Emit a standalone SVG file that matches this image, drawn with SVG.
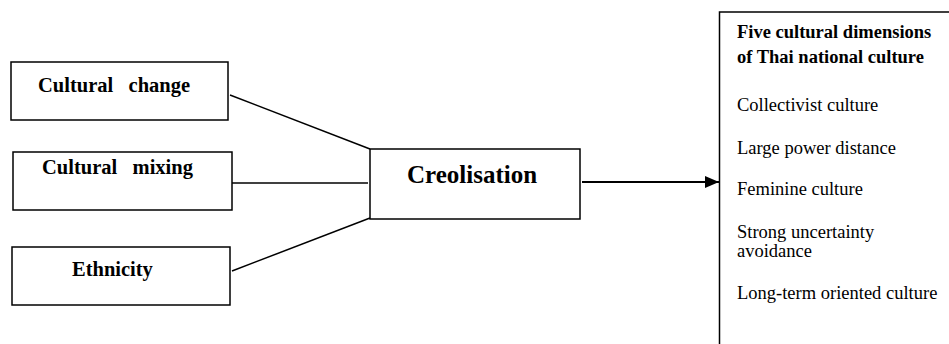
<svg xmlns="http://www.w3.org/2000/svg" width="949" height="344" viewBox="0 0 949 344" font-family="Liberation Serif, Times New Roman, serif">
  <style>
    .box { fill: #fff; stroke: #000; stroke-width: 1.5; }
    .lbl { font-weight: bold; font-size: 20.5px; fill: #000; }
    .big { font-weight: bold; font-size: 25px; fill: #000; }
    .head { font-weight: bold; font-size: 18.5px; fill: #000; }
    .item { font-size: 18.5px; fill: #000; }
    .conn { stroke: #000; stroke-width: 1.5; fill: none; }
  </style>
  <defs>
    <marker id="arrow" viewBox="0 0 14 12" refX="14" refY="6" markerWidth="14" markerHeight="12" markerUnits="userSpaceOnUse" orient="auto">
      <path d="M0,0 L14,6 L0,12 z" fill="#000"/>
    </marker>
  </defs>
  <rect width="949" height="344" fill="#fff"/>

  <g id="connectors">
    <line class="conn" x1="230" y1="95" x2="370" y2="149"/>
    <line class="conn" x1="232" y1="183" x2="368" y2="183"/>
    <line class="conn" x1="232" y1="271" x2="370" y2="218"/>
    <line class="conn" x1="582" y1="182" x2="719" y2="182" marker-end="url(#arrow)" style="stroke-width:2"/>
  </g>

  <g id="cultural-change">
    <rect class="box" x="11" y="62" width="217" height="58"/>
    <text class="lbl" x="38" y="92" xml:space="preserve">Cultural   change</text>
  </g>

  <g id="cultural-mixing">
    <rect class="box" x="13" y="152" width="219" height="58"/>
    <text class="lbl" x="42" y="174" xml:space="preserve">Cultural   mixing</text>
  </g>

  <g id="ethnicity">
    <rect class="box" x="12" y="247" width="218" height="58"/>
    <text class="lbl" x="72" y="276">Ethnicity</text>
  </g>

  <g id="creolisation">
    <rect class="box" x="370" y="149" width="210" height="70"/>
    <text class="big" x="407" y="183">Creolisation</text>
  </g>

  <g id="dimensions">
    <path class="conn" d="M960,12 H719.5 V350"/>
    <text class="head" x="737" y="38">Five cultural dimensions</text>
    <text class="head" x="737" y="63">of Thai national culture</text>
    <text class="item" x="737" y="111">Collectivist culture</text>
    <text class="item" x="737" y="154">Large power distance</text>
    <text class="item" x="737" y="195">Feminine culture</text>
    <text class="item" x="737" y="238">Strong uncertainty</text>
    <text class="item" x="737" y="257">avoidance</text>
    <text class="item" x="737" y="299">Long-term oriented culture</text>
  </g>
</svg>
